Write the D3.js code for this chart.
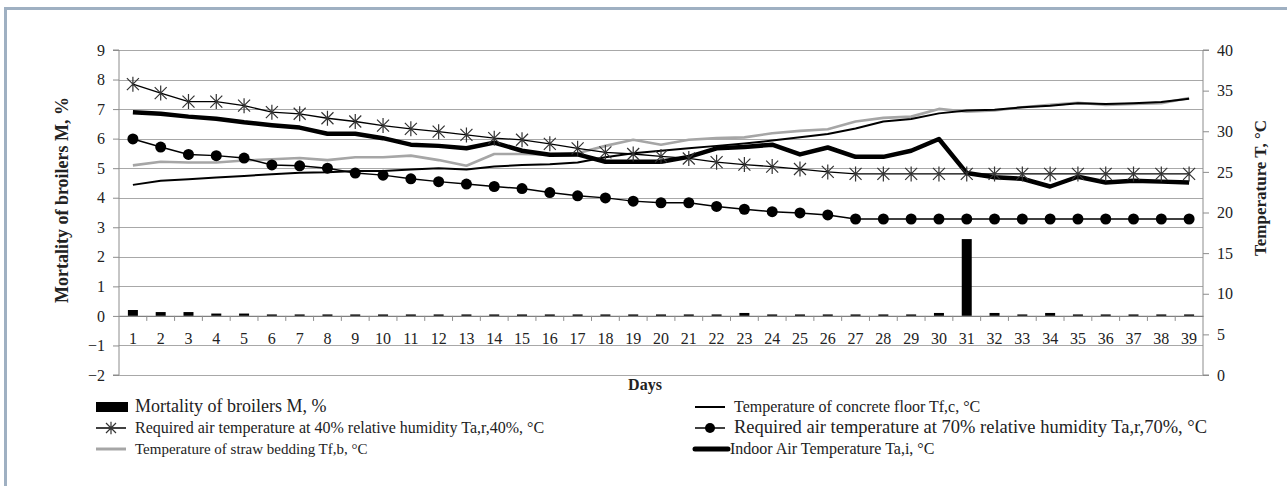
<!DOCTYPE html>
<html>
<head>
<meta charset="utf-8">
<script src="https://cdn.jsdelivr.net/npm/d3@7"></script>
<style>
  body { margin: 0; background: #fff; }
  text { font-family: "Liberation Serif", "Times New Roman", serif; fill: #222; }
</style>
</head>
<body>
<script>
// Chart data
var days = d3.range(1, 40);

// Mortality of broilers M, % (left axis)
var mortality = [0.2, 0.13, 0.13, 0.08, 0.08, 0.05, 0.05, 0.05, 0.05, 0.05,
  0.05, 0.05, 0.05, 0.05, 0.05, 0.05, 0.05, 0.05, 0.05, 0.05,
  0.05, 0.05, 0.1, 0.05, 0.05, 0.05, 0.05, 0.05, 0.05, 0.1,
  2.6, 0.1, 0.05, 0.1, 0.05, 0.05, 0.05, 0.05, 0.05];

// Temperatures, °C (right axis)
var concreteFloor = [23.4, 23.9, 24.1, 24.3, 24.5, 24.7, 24.9, 24.95, 25.1, 25.1,
  25.3, 25.45, 25.3, 25.65, 25.85, 25.95, 26.15, 26.8, 27.3, 27.6,
  27.9, 28.2, 28.5, 28.85, 29.25, 29.65, 30.35, 31.2, 31.5, 32.2,
  32.55, 32.65, 32.95, 33.15, 33.45, 33.35, 33.45, 33.6, 34.0];

var reqAir40 = [35.8, 34.7, 33.65, 33.65, 33.15, 32.35, 32.15, 31.6, 31.2, 30.7,
  30.3, 29.95, 29.55, 29.15, 28.95, 28.45, 27.9, 27.4, 27.2, 26.9,
  26.65, 26.2, 25.9, 25.65, 25.35, 25.0, 24.75, 24.75, 24.75, 24.75,
  24.75, 24.75, 24.75, 24.75, 24.75, 24.75, 24.75, 24.75, 24.75];

var reqAir70 = [29.05, 28.05, 27.15, 27.0, 26.7, 25.85, 25.75, 25.45, 24.85, 24.6,
  24.15, 23.8, 23.5, 23.2, 22.95, 22.45, 22.05, 21.8, 21.4, 21.2,
  21.2, 20.75, 20.4, 20.1, 19.95, 19.7, 19.2, 19.2, 19.2, 19.2,
  19.2, 19.2, 19.2, 19.2, 19.2, 19.2, 19.2, 19.2, 19.2];

var strawBedding = [25.8, 26.25, 26.15, 26.15, 26.4, 26.55, 26.7, 26.45, 26.8, 26.8,
  27.0, 26.45, 25.75, 27.2, 27.2, 27.1, 27.3, 28.2, 28.95, 28.35,
  28.95, 29.15, 29.25, 29.75, 30.05, 30.25, 31.2, 31.65, 31.8, 32.75,
  32.4, 32.55, 32.95, 33.25, 33.5, 33.25, 33.35, 33.45, 34.1];

var indoorAir = [32.35, 32.15, 31.8, 31.55, 31.1, 30.75, 30.45, 29.7, 29.7, 29.15,
  28.35, 28.2, 27.9, 28.6, 27.6, 27.1, 27.15, 26.25, 26.25, 26.25,
  26.85, 27.9, 28.05, 28.35, 27.15, 28.0, 26.85, 26.85, 27.6, 29.05,
  24.85, 24.35, 24.15, 23.2, 24.4, 23.7, 23.9, 23.8, 23.7];

var leftTicks = d3.range(-2, 10);
var rightTicks = d3.range(0, 45, 5);

var svgWidth = 1287;
var svgHeight = 486;

// plot area in page pixels
var plot = { left: 119, right: 1203, top: 50, bottom: 375 };

var svg = d3.select("body")
  .append("svg")
  .attr("width", svgWidth)
  .attr("height", svgHeight);

// frame around the figure
svg.append("rect")
  .attr("x", 5.5).attr("y", 8.5)
  .attr("width", svgWidth + 20).attr("height", svgHeight + 20)
  .attr("fill", "none")
  .attr("stroke", "#9fb0c2")
  .attr("stroke-width", 3);

var xBand = d3.scaleBand()
  .domain(days)
  .range([plot.left, plot.right]);

var yLeft = d3.scaleLinear()
  .domain([-2, 9])
  .range([plot.bottom, plot.top]);

var yRight = d3.scaleLinear()
  .domain([0, 40])
  .range([plot.bottom, plot.top]);

var xc = d => xBand(d) + xBand.bandwidth() / 2;

// horizontal gridlines
svg.append("g")
  .selectAll("line")
  .data(leftTicks)
  .join("line")
  .attr("x1", plot.left).attr("x2", plot.right)
  .attr("y1", d => Math.round(yLeft(d)) + 0.5)
  .attr("y2", d => Math.round(yLeft(d)) + 0.5)
  .attr("stroke", "#a8a8a8")
  .attr("stroke-width", 1.2);

var serif = "'Liberation Serif', 'Times New Roman', serif";

// left axis
var leftAxis = svg.append("g")
  .attr("transform", `translate(${plot.left}, 0)`)
  .call(d3.axisLeft(yLeft).tickValues(leftTicks).tickSize(6).tickPadding(8));
leftAxis.attr("font-family", serif).selectAll("text").style("font-size", "16px");

// right axis
var rightAxis = svg.append("g")
  .attr("transform", `translate(${plot.right}, 0)`)
  .call(d3.axisRight(yRight).tickValues(rightTicks).tickSize(6).tickPadding(8));
rightAxis.attr("font-family", serif).selectAll("text").style("font-size", "16px");

svg.selectAll(".domain").attr("stroke", "#8c8c8c");
svg.selectAll(".tick line").attr("stroke", "#8c8c8c");
leftAxis.select(".domain").attr("d", `M-6,${yLeft(9)}H0V${yLeft(-2)}H-6`);
rightAxis.select(".domain").attr("d", `M6,${yRight(40)}H0V${yRight(0)}H6`);

// mortality bars
var barW = 10;
svg.append("g")
  .selectAll("rect")
  .data(days)
  .join("rect")
  .attr("x", d => xc(d) - barW / 2)
  .attr("y", (d, i) => yLeft(mortality[i]))
  .attr("width", barW)
  .attr("height", (d, i) => yLeft(0) - yLeft(mortality[i]))
  .attr("fill", "#000");

// category axis crossing at zero
var xAxis = svg.append("g")
  .attr("transform", `translate(0, ${yLeft(0)})`)
  .call(d3.axisBottom(xBand).tickSize(0).tickPadding(17));
xAxis.attr("font-family", serif);
xAxis.select(".domain").attr("stroke", "#808080").attr("stroke-width", 1.3);
xAxis.selectAll("text").style("font-size", "16px");

svg.append("g")
  .selectAll("line")
  .data(days.slice(1))
  .join("line")
  .attr("x1", d => xBand(d)).attr("x2", d => xBand(d))
  .attr("y1", yLeft(0)).attr("y2", yLeft(0) + 5)
  .attr("stroke", "#8c8c8c");

// temperature lines
var line = d3.line()
  .x((d, i) => xc(days[i]))
  .y(d => yRight(d));

function drawSeries(values, color, width) {
  svg.append("path")
    .attr("d", line(values))
    .attr("fill", "none")
    .attr("stroke", color)
    .attr("stroke-width", width)
    .attr("stroke-linejoin", "round");
}

drawSeries(strawBedding, "#a6a6a6", 2.6);
drawSeries(concreteFloor, "#000", 2);
drawSeries(reqAir70, "#000", 1.5);
drawSeries(reqAir40, "#000", 1.3);
drawSeries(indoorAir, "#000", 4.5);

// star markers
function star(g, cx, cy, r) {
  g.append("path")
    .attr("d", `M${cx - r},${cy - r}L${cx + r},${cy + r}M${cx - r},${cy + r}L${cx + r},${cy - r}M${cx},${cy - r * 1.25}L${cx},${cy + r * 1.25}`)
    .attr("stroke", "#333")
    .attr("stroke-width", 1.2)
    .attr("fill", "none");
}
var starG = svg.append("g");
reqAir40.forEach((v, i) => star(starG, xc(days[i]), yRight(v), 6));

svg.append("g")
  .selectAll("circle")
  .data(reqAir70)
  .join("circle")
  .attr("cx", (d, i) => xc(days[i]))
  .attr("cy", d => yRight(d))
  .attr("r", 5.5)
  .attr("fill", "#000");

// axis titles
svg.append("text")
  .attr("transform", "translate(68, 200) rotate(-90)")
  .attr("text-anchor", "middle")
  .style("font-size", "18px")
  .style("font-weight", "bold")
  .text("Mortality of broilers M,  %");

svg.append("text")
  .attr("transform", "translate(1266, 188) rotate(-90)")
  .attr("text-anchor", "middle")
  .style("font-size", "17px")
  .style("font-weight", "bold")
  .text("Temperature T, °C");

svg.append("text")
  .attr("x", 645).attr("y", 390)
  .attr("text-anchor", "middle")
  .style("font-size", "16px")
  .style("font-weight", "bold")
  .text("Days");

// legend
var legendItems = [
  { label: "Mortality of broilers M, %", col: 0, row: 0, kind: "bar", size: 18 },
  { label: "Temperature of concrete floor Tf,c, °C", col: 1, row: 0, kind: "thin", size: 16 },
  { label: "Required air temperature at 40% relative humidity Ta,r,40%, °C", col: 0, row: 1, kind: "star", size: 16 },
  { label: "Required air temperature at 70% relative humidity Ta,r,70%, °C", col: 1, row: 1, kind: "dot", size: 18.5 },
  { label: "Temperature of straw bedding Tf,b, °C", col: 0, row: 2, kind: "gray", size: 15 },
  { label: "Indoor Air Temperature Ta,i, °C", col: 1, row: 2, kind: "thick", size: 16 }
];
var colX = [96, 695];
var rowY = [407, 428, 449];

legendItems.forEach(item => {
  var x = colX[item.col];
  var y = rowY[item.row];
  var g = svg.append("g");
  var textX = x + 39;
  if (item.kind === "bar") {
    g.append("rect").attr("x", x).attr("y", y - 5).attr("width", 32).attr("height", 10).attr("fill", "#000");
  } else if (item.kind === "thin") {
    g.append("line").attr("x1", x).attr("x2", x + 30).attr("y1", y).attr("y2", y).attr("stroke", "#000").attr("stroke-width", 2);
  } else if (item.kind === "star") {
    g.append("line").attr("x1", x).attr("x2", x + 30).attr("y1", y).attr("y2", y).attr("stroke", "#000").attr("stroke-width", 1.5);
    star(g, x + 15, y, 5);
  } else if (item.kind === "dot") {
    g.append("line").attr("x1", x).attr("x2", x + 30).attr("y1", y).attr("y2", y).attr("stroke", "#000").attr("stroke-width", 1.5);
    g.append("circle").attr("cx", x + 15).attr("cy", y).attr("r", 5).attr("fill", "#000");
  } else if (item.kind === "gray") {
    g.append("line").attr("x1", x).attr("x2", x + 30).attr("y1", y).attr("y2", y).attr("stroke", "#a6a6a6").attr("stroke-width", 3);
  } else if (item.kind === "thick") {
    g.append("line").attr("x1", x).attr("x2", x + 33).attr("y1", y).attr("y2", y).attr("stroke", "#000").attr("stroke-width", 5).attr("stroke-linecap", "round");
    textX = x + 35;
  }
  g.append("text")
    .attr("x", textX).attr("y", y + 5)
    .style("font-size", item.size + "px")
    .text(item.label);
});
</script>
</body>
</html>
